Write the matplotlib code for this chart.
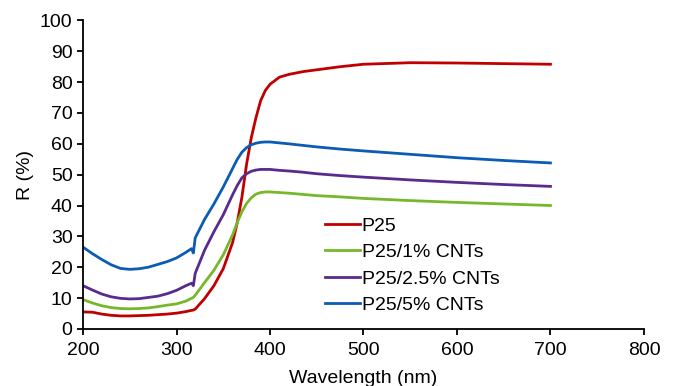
import matplotlib.pyplot as plt

plt.rcParams['font.family'] = ['Liberation Sans', 'DejaVu Sans']

wl = [200, 210, 220, 230, 240, 250, 260, 270, 280, 290, 300, 310, 316, 318, 320,
      330, 340, 350, 360, 365, 370, 375, 380, 385, 390, 395, 400, 410, 420, 435, 450,
      475, 500, 550, 600, 650, 700]

p25 = [5.5, 5.4, 4.8, 4.4, 4.2, 4.2, 4.3, 4.4, 4.6, 4.8, 5.1, 5.6, 6.0, 6.1, 6.4,
       9.8, 14.0, 19.5, 28.0, 34.5, 42.8, 53.5, 62.0, 68.5, 74.0, 77.3, 79.3, 81.6, 82.5, 83.4, 84.0,
       85.0, 85.8, 86.3, 86.2, 86.0, 85.8]
cnt1 = [9.5, 8.4, 7.5, 6.9, 6.6, 6.5, 6.6, 6.8, 7.2, 7.7, 8.1, 9.0, 9.9, 10.2, 10.9,
        15.0, 19.0, 24.0, 30.5, 34.5, 38.0, 40.7, 42.5, 43.7, 44.2, 44.4, 44.4, 44.2, 44.0, 43.6, 43.2,
        42.8, 42.3, 41.6, 41.0, 40.5, 40.0]
cnt25 = [14.0, 12.6, 11.3, 10.4, 9.9, 9.7, 9.8, 10.2, 10.6, 11.4, 12.5, 14.0, 14.8, 14.0, 18.0,
         25.5, 31.5, 37.0, 43.5, 46.5, 49.0, 50.3, 51.1, 51.5, 51.7, 51.7, 51.7, 51.4, 51.2, 50.8, 50.3,
         49.7, 49.2, 48.3, 47.5, 46.8, 46.2]
cnt5 = [26.5, 24.4, 22.5, 20.8, 19.6, 19.3, 19.5, 20.0, 20.9, 21.8, 23.0, 24.8, 26.0, 24.6, 29.5,
        35.5, 40.5, 46.0, 52.0, 55.0, 57.3, 58.8, 59.7, 60.2, 60.5, 60.6, 60.6, 60.3, 60.0, 59.5, 59.0,
        58.3, 57.7, 56.6, 55.5, 54.6, 53.8]

labels = ['P25', 'P25/1% CNTs', 'P25/2.5% CNTs', 'P25/5% CNTs']
colors = ['#C00000', '#77B82A', '#5A2A8C', '#0B5CB4']

fig = plt.figure(figsize=(6.75, 3.86), dpi=100)
ax = fig.add_axes([0.123, 0.148, 0.831, 0.799])

for ys, lab, c in zip([p25, cnt1, cnt25, cnt5], labels, colors):
    ax.plot(wl, ys, color=c, lw=2.0, label=lab)

ax.set_xlim(200, 800)
ax.set_ylim(0, 100)
ax.set_xticks(range(200, 801, 100))
ax.set_yticks(range(0, 101, 10))
ax.spines['top'].set_visible(False)
ax.spines['right'].set_visible(False)
ax.spines['left'].set_linewidth(1.3)
ax.spines['bottom'].set_linewidth(1.3)
ax.tick_params(direction='out', length=4, width=1.3, labelsize=14)
ax.tick_params(axis='x', pad=5.5)
ax.set_xlabel('Wavelength (nm)', fontsize=14, labelpad=8)
ax.set_ylabel('R (%)', fontsize=14, labelpad=4)

ax.legend(loc='upper left', bbox_to_anchor=(0.431, 0.362), frameon=False, fontsize=14,
          handlelength=1.8, handletextpad=0.1, labelspacing=0.45, borderaxespad=0, borderpad=0)

fig.savefig('out.png', dpi=100)
